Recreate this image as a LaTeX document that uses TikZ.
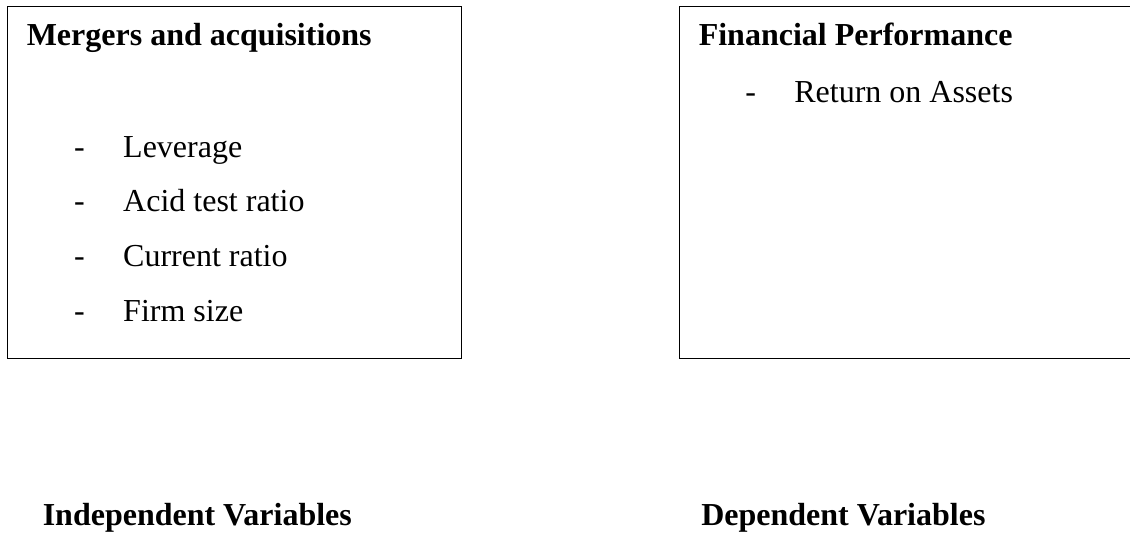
\documentclass[tikz,border=0pt]{standalone}
\usepackage{fontspec}
\setmainfont{Liberation Serif}
\usetikzlibrary{positioning}
\tikzstyle{frame} = [draw, line width=1pt, inner sep=0pt, anchor=north west]
\tikzstyle{head} = [font=\fontsize{24}{28}\selectfont\bfseries, inner sep=0pt, anchor=base west]
\tikzstyle{item} = [font=\fontsize{24}{28}\selectfont, inner sep=0pt, anchor=base west]
\newcommand{\dashitem}[1]{\makebox[36.75pt][l]{-}#1}

\begin{document}
\begin{tikzpicture}[x=0.75pt,y=-0.75pt]

\clip (0,0) rectangle (1130,533);

\node[frame, minimum width=340.5pt, minimum height=264pt] (mabox) at (7,6) {};
\node[frame, minimum width=345pt, minimum height=264pt] (fpbox) at (679,6) {};

\node[head] (ma) at (26.5,45) {Mergers and acquisitions};
\node[item] (lev) [below right=84pt and 35.6pt of ma.base west, anchor=base west] {\dashitem{Leverage}};
\node[item] (acid) [below=41pt of lev.base west, anchor=base west] {\dashitem{Acid test ratio}};
\node[item] (cur) [below=41pt of acid.base west, anchor=base west] {\dashitem{Current ratio}};
\node[item] (size) [below=41pt of cur.base west, anchor=base west] {\dashitem{Firm size}};

\node[head] (fp) at (698.5,45) {Financial Performance};
\node[item] (roa) [below right=42.75pt and 34.9pt of fp.base west, anchor=base west] {\dashitem{Return on Assets}};

\node[head] (indep) at (42.5,525) {Independent Variables};
\node[head] (dep) at (701,525) {Dependent Variables};

\end{tikzpicture}
\end{document}
